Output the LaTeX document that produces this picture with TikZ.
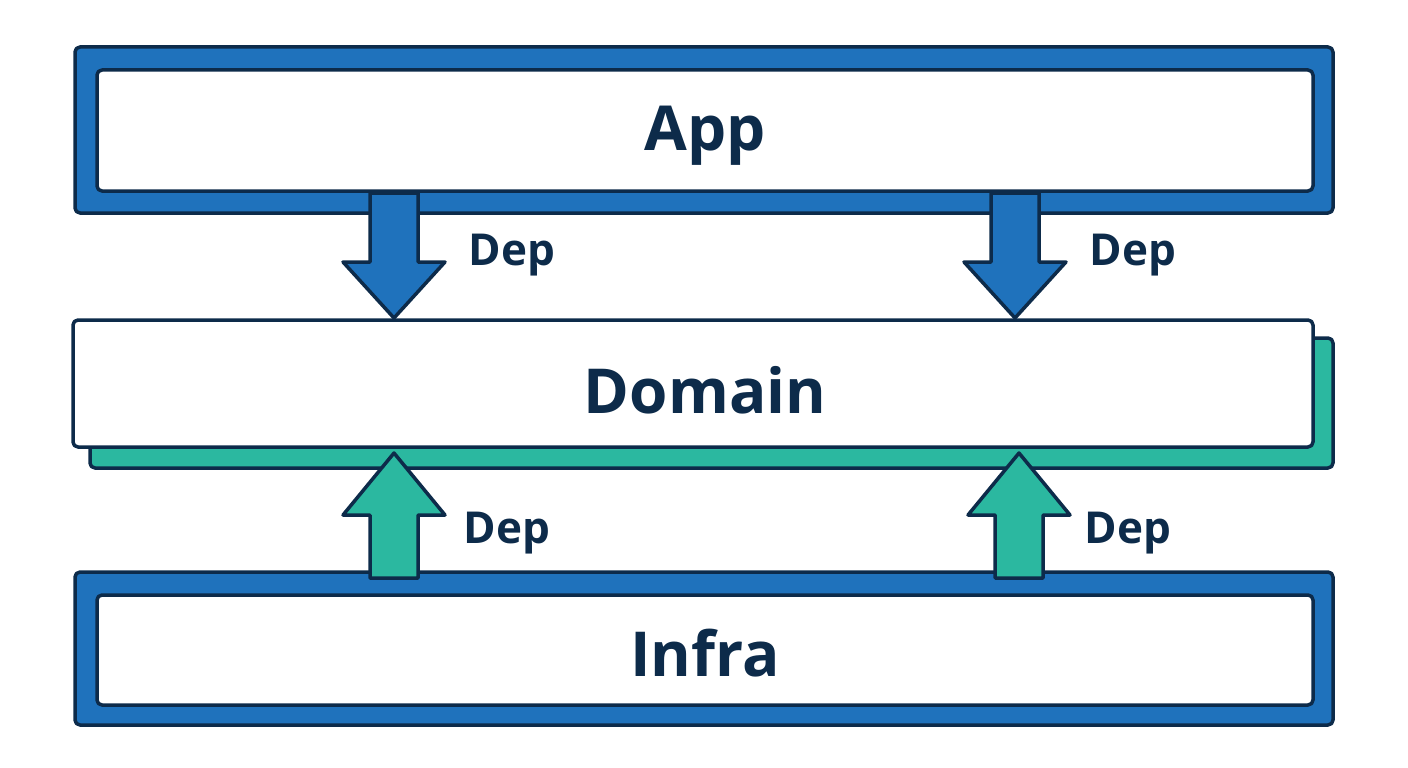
\documentclass[tikz,border=0pt]{standalone}
\usepackage{fontspec}
\setmainfont{Open Sans}
\definecolor{navy}{HTML}{0D2B4A}
\definecolor{blu}{HTML}{1F72BC}
\definecolor{teal}{HTML}{2BB8A0}
\begin{document}
\begin{tikzpicture}[x=1pt,y=-1pt,
  edge/.style={draw=navy,line width=3.5pt,rounded corners=5pt,line join=round},
  title/.style={font=\fontsize{62}{62}\selectfont\bfseries,text=navy},
  dep/.style={font=\fontsize{44}{44}\selectfont\bfseries,text=navy},
  arr/.style={draw=navy,line width=3.5pt,line join=round}]
\useasboundingbox (0,0) rectangle (1408,768);
% App
\draw[edge,fill=blu] (75,47) rectangle (1333,213);
\draw[edge,fill=white] (97,70) rectangle (1313,191);
\node[title] (app) at (705,136) {App};
% Domain
\draw[edge,fill=teal] (90,338) rectangle (1333,468);
\draw[edge,fill=white] (73,320) rectangle (1313,447);
\node[title] (dom) at (705,390) {Domain};
% Infra
\draw[edge,fill=blu] (75,572) rectangle (1333,725);
\draw[edge,fill=white] (97,595) rectangle (1313,705);
\node[title] (inf) at (705,653) {Infra};
% down arrows
\foreach \c in {394,1015}{
  \draw[arr,fill=blu] (\c-24,193) -- (\c+24,193) -- (\c+24,262) -- (\c+51,262) -- (\c,318) -- (\c-51,262) -- (\c-24,262) -- cycle;}
% up arrows
\foreach \c in {394,1019}{
  \draw[arr,fill=teal] (\c-24,578) -- (\c+24,578) -- (\c+24,515) -- (\c+51,515) -- (\c,453) -- (\c-51,515) -- (\c-24,515) -- cycle;}
\node[dep] (d1) at (512,255) {Dep};
\node[dep] (d2) at (1133,255) {Dep};
\node[dep] (d3) at (507,533) {Dep};
\node[dep] (d4) at (1128,533) {Dep};
\end{tikzpicture}
\end{document}
